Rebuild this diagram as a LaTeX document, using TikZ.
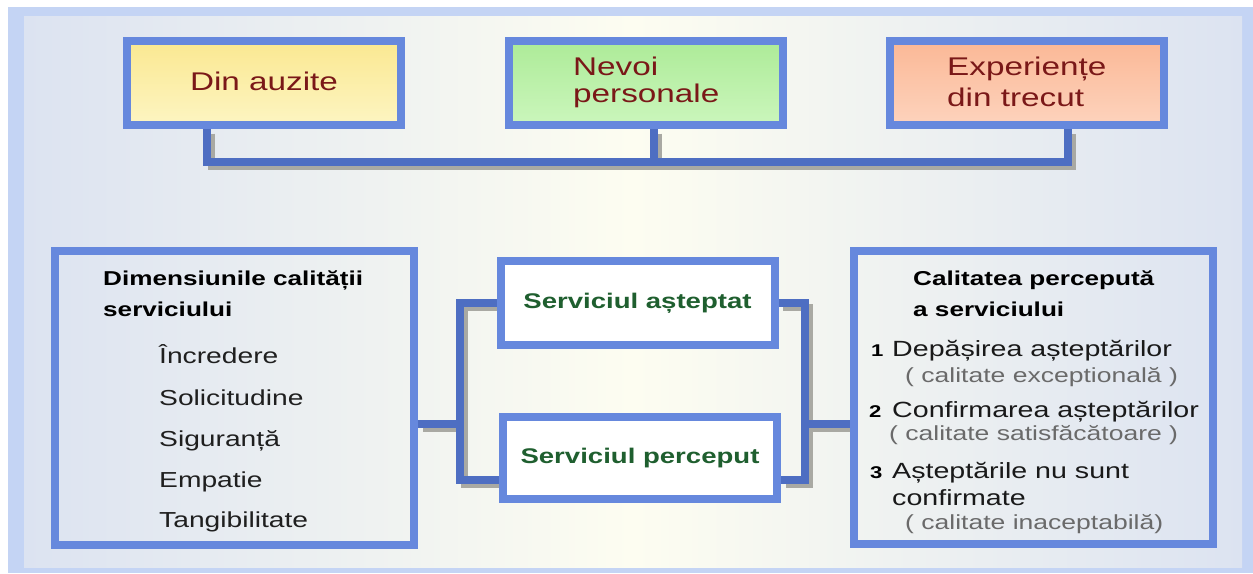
\documentclass[tikz,border=0pt]{standalone}
\usepackage{fontspec}
\setmainfont{Liberation Sans}[FakeStretch=1.3]
\usetikzlibrary{calc}

\definecolor{framebl}{HTML}{C4D4F4}
\definecolor{paneledge}{HTML}{DCE3F1}
\definecolor{panelmid}{HTML}{FDFDF1}
\definecolor{boxblue}{HTML}{6688DD}
\definecolor{wireblue}{HTML}{4E6EC2}
\definecolor{wiregray}{HTML}{A9A9A3}
\definecolor{textred}{HTML}{7A1818}
\definecolor{textgreen}{HTML}{1F5F2F}
\definecolor{subgray}{HTML}{6A6A6A}
\definecolor{yeltop}{HTML}{FAE891}
\definecolor{yelbot}{HTML}{FDF5C2}
\definecolor{grntop}{HTML}{ADEB98}
\definecolor{grnbot}{HTML}{CBF6BC}
\definecolor{saltop}{HTML}{FBB896}
\definecolor{salbot}{HTML}{FDD3BD}

\pgfdeclarelayer{back}
\pgfdeclarelayer{wires}
\pgfsetlayers{back,wires,main}

\tikzset{
  box/.style={draw=boxblue, line width=8pt, inner sep=0pt,
    minimum width=274pt, minimum height=84pt},
  bigbox/.style={draw=boxblue, line width=8pt, inner sep=0pt,
    minimum width=359pt, minimum height=294pt},
  conn/.style={draw=wireblue, line width=7.5pt},
  connshadow/.style={draw=wiregray, line width=7.5pt,
    transform canvas={xshift=4.5pt, yshift=-4.5pt}},
  toptext/.style={text=textred, inner sep=0pt, anchor=base west,
    font=\fontsize{25.6}{30}\selectfont},
  midtext/.style={text=textgreen, font=\bfseries\fontsize{21.2}{25}\selectfont},
  headtext/.style={text=black, inner sep=0pt, anchor=base west,
    font=\bfseries\fontsize{20.1}{24}\selectfont},
  itemtext/.style={text=black!88, inner sep=0pt, anchor=base west,
    font=\fontsize{21.7}{26}\selectfont},
  qualtext/.style={text=black!90, inner sep=0pt, anchor=base west,
    font=\fontsize{22}{26}\selectfont},
  numtext/.style={text=black, inner sep=0pt, anchor=base west,
    font=\bfseries\fontsize{17}{20}\selectfont},
  subtext/.style={text=subgray, inner sep=0pt, anchor=base west,
    font=\fontsize{20.4}{24}\selectfont},
}

\begin{document}
\begin{tikzpicture}[x=1pt, y=-1pt]
\useasboundingbox (0,0) rectangle (1253,573);

% frame and shaded panel
\begin{pgfonlayer}{back}
  \fill[framebl] (8,7) rectangle (1253,573);
  \shade[left color=paneledge, right color=paneledge, middle color=panelmid]
    (24,16) rectangle (1242,567);
\end{pgfonlayer}

% top row of sources
\node[box, top color=yeltop, bottom color=yelbot] (din) at (264,83) {};
\node[toptext, anchor=center, text depth=0pt] (dintxt) at (264,81) {Din auzite};
\node[box, top color=grntop, bottom color=grnbot] (nev) at (645.5,83) {};
\node[toptext] (nev1) at (573,75) {Nevoi};
\node[toptext] (nev2) at (573,102) {personale};
\node[box, top color=saltop, bottom color=salbot] (exp) at (1027,83) {};
\node[toptext] (exp1) at (947,75) {Experiențe};
\node[toptext] (exp2) at (947,106) {din trecut};

% left box: quality dimensions
\node[bigbox] (dim) at (234.5,398) {};
\node[headtext] (dimh1) at (103,285) {Dimensiunile calității};
\node[headtext] (dimh2) at (103,316) {serviciului};
\node[itemtext] (d1) at (159,363) {Încredere};
\node[itemtext] (d2) at (159,405) {Solicitudine};
\node[itemtext] (d3) at (159,446) {Siguranță};
\node[itemtext] (d4) at (159,487) {Empatie};
\node[itemtext] (d5) at (159,527) {Tangibilitate};

% middle: expected and perceived service
\node[box, fill=white, midtext] (asp) at (637.5,303) {Serviciul așteptat};
\node[box, fill=white, midtext, minimum height=82pt] (per) at (640,458) {Serviciul perceput};

% right box: perceived quality
\node[bigbox, minimum height=293pt] (cal) at (1033.5,397.5) {};
\node[headtext] (calh1) at (913,285) {Calitatea percepută};
\node[headtext] (calh2) at (913,316) {a serviciului};
\node[numtext] (n1) at (871,356) {1};
\node[qualtext] (q1) at (892,356) {Depășirea așteptărilor};
\node[subtext] (s1) at (905,382) {( calitate exceptională )};
\node[numtext] (n2) at (869,417) {2};
\node[qualtext] (q2) at (892,417) {Confirmarea așteptărilor};
\node[subtext] (s2) at (889,440) {( calitate satisfăcătoare )};
\node[numtext] (n3) at (870,478) {3};
\node[qualtext] (q3a) at (892,478) {Așteptările nu sunt};
\node[qualtext] (q3b) at (892,505) {confirmate};
\node[subtext] (s3) at (905,529) {( calitate inaceptabilă)};

% junction points of the brackets
\coordinate (jl) at (460,424);
\coordinate (jr) at (805,424);

% connectors, each with a grey drop shadow
\begin{pgfonlayer}{wires}
\foreach \sty in {connshadow,conn}{
  \draw[\sty] ([xshift=-57pt]din.south) |- ($(exp.south)+(41,33)$)
    -- ([xshift=41pt]exp.south);
  \draw[\sty] ([xshift=8.5pt]nev.south) -- ++(0,33);
  \draw[\sty] (asp.west) -| (jl) |- ([yshift=-22pt]per.west);
  \draw[\sty] (asp.east) -| (jr) |- ([yshift=-22pt]per.east);
  \draw[\sty] (dim.east |- jl) -- (jl);
  \draw[\sty] (jr) -- (cal.west |- jl);
}
\end{pgfonlayer}
\end{tikzpicture}
\end{document}
